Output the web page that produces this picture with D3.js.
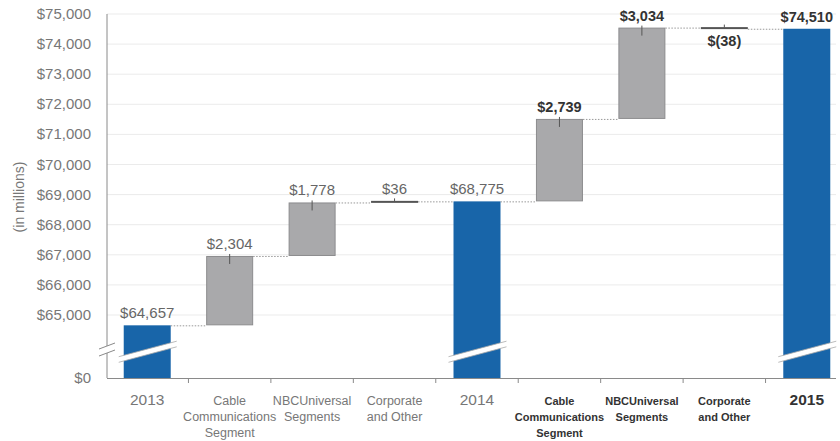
<!doctype html>
<html lang="en">
  <head>
    <meta charset="UTF-8" />
    <title>Revenue bridge</title>
    <script src="https://d3js.org/d3.v7.min.js"></script>
    <style>
      body,
      html {
        margin: 0;
        padding: 0;
        background: #fff;
      }
      svg {
        display: block;
        font-family: "Liberation Sans", Arial, Helvetica, sans-serif;
      }
    </style>
  </head>
  <body>
    <svg id="chart" width="840" height="441"></svg>
    <script>
      // data
      const categories = [
        ["2013"],
        ["Cable", "Communications", "Segment"],
        ["NBCUniversal", "Segments"],
        ["Corporate", "and Other"],
        ["2014"],
        ["Cable", "Communications", "Segment"],
        ["NBCUniversal", "Segments"],
        ["Corporate", "and Other"],
        ["2015"]
      ];
      const values = [64657, 2304, 1778, 36, 68775, 2739, 3034, -38, 74510];
      const isTotal = [true, false, false, false, true, false, false, false, true];
      const isBold = [false, false, false, false, false, true, true, true, true];
      const yTicks = [0, 65000, 66000, 67000, 68000, 69000, 70000, 71000, 72000, 73000, 74000, 75000];

      const svg = d3.select("#chart");
      const axisX = 107;
      const baseY = 378;

      // broken value axis: $0 at the bottom, then 64k..75k
      const y = d3.scaleLinear().domain([0, 64000, 75000]).range([baseY, 345.1, 14]);
      const x = d3
        .scaleBand()
        .domain(d3.range(values.length))
        .range([106, 848])
        .paddingInner(0.43)
        .paddingOuter(0.215);

      // build the waterfall steps
      let running = 0;
      const steps = values.map((v, i) => {
        let lo, hi, end;
        if (isTotal[i]) {
          lo = 0;
          hi = v;
          end = v;
        } else {
          lo = Math.min(running, running + v);
          hi = Math.max(running, running + v);
          end = running + v;
        }
        running = end;
        return { i, v, lo, hi, end };
      });

      const fmt = (v) => (v < 0 ? "$(" + d3.format(",")(-v) + ")" : "$" + d3.format(",")(v));

      // gridlines
      svg
        .append("g")
        .selectAll("line")
        .data(yTicks.filter((d) => d > 0))
        .join("line")
        .attr("x1", axisX)
        .attr("x2", 836)
        .attr("y1", (d) => y(d))
        .attr("y2", (d) => y(d))
        .attr("stroke", "#ebebeb")
        .attr("stroke-width", 1);

      // y tick labels
      svg
        .append("g")
        .selectAll("text")
        .data(yTicks)
        .join("text")
        .attr("x", 91)
        .attr("y", (d) => y(d) + 5)
        .attr("text-anchor", "end")
        .attr("font-size", 15)
        .attr("fill", "#777")
        .text((d) => "$" + d3.format(",")(d));

      svg
        .append("text")
        .attr("transform", "translate(24,197) rotate(-90)")
        .attr("text-anchor", "middle")
        .attr("font-size", 14)
        .attr("fill", "#777")
        .text("(in millions)");

      // connectors
      svg
        .append("g")
        .selectAll("line")
        .data(steps.slice(0, -1))
        .join("line")
        .attr("x1", (d) => x(d.i) + x.bandwidth())
        .attr("x2", (d) => x(d.i + 1))
        .attr("y1", (d) => y(d.end) + 0.5)
        .attr("y2", (d) => y(d.end) + 0.5)
        .attr("stroke", "#999")
        .attr("stroke-dasharray", "1.5,1.5");

      // bars
      const bars = svg.append("g");
      steps.forEach((d) => {
        const x0 = x(d.i);
        const w = x.bandwidth();
        const top = y(d.hi);
        const h = Math.max(2, y(d.lo) - y(d.hi));
        if (isTotal[d.i]) {
          bars
            .append("rect")
            .attr("x", x0)
            .attr("y", top)
            .attr("width", w)
            .attr("height", h)
            .attr("fill", "#1865a9");
          // slanted break through the bar
          const xl = x0 - 5;
          const xr = x0 + w + 6;
          const yl = 359.5;
          const yr = 344;
          const t = 2.8;
          bars
            .append("path")
            .attr("d", `M${xl},${yl - t}L${xr},${yr - t}L${xr},${yr + t}L${xl},${yl + t}Z`)
            .attr("fill", "#fff");
          [-t, t].forEach((o) =>
            bars
              .append("line")
              .attr("x1", xl)
              .attr("y1", yl + o)
              .attr("x2", xr)
              .attr("y2", yr + o)
              .attr("stroke", "#aaa")
              .attr("stroke-width", 0.8)
          );
        } else if (Math.abs(d.v) < 200) {
          bars
            .append("rect")
            .attr("x", x0)
            .attr("y", y(d.hi) - 0.5)
            .attr("width", w)
            .attr("height", 2)
            .attr("fill", "#555");
          bars
            .append("line")
            .attr("x1", x0 + w / 2)
            .attr("x2", x0 + w / 2)
            .attr("y1", top - 3)
            .attr("y2", top)
            .attr("stroke", "#555");
        } else {
          bars
            .append("rect")
            .attr("x", x0 + 0.5)
            .attr("y", top + 0.5)
            .attr("width", w - 1)
            .attr("height", h - 1)
            .attr("fill", "#a9a9ab")
            .attr("stroke", "#8c8c8e");
          bars
            .append("line")
            .attr("x1", x0 + w / 2)
            .attr("x2", x0 + w / 2)
            .attr("y1", top - 2)
            .attr("y2", top + 8)
            .attr("stroke", "#555");
        }
      });

      // value labels
      svg
        .append("g")
        .selectAll("text")
        .data(steps)
        .join("text")
        .attr("x", (d) => x(d.i) + x.bandwidth() / 2)
        .attr("y", (d) => (d.v < 0 ? y(d.lo) + 17 : y(d.hi) - 7))
        .attr("text-anchor", "middle")
        .attr("font-size", (d) => (isBold[d.i] ? 14.5 : 15))
        .attr("font-weight", (d) => (isBold[d.i] ? "bold" : "normal"))
        .attr("fill", (d) => (isBold[d.i] ? "#333" : "#666"))
        .text((d) => fmt(d.v));

      // axes lines
      const axisG = svg.append("g").attr("stroke", "#8a8a8a").attr("fill", "none");
      axisG.append("line").attr("x1", axisX).attr("x2", axisX).attr("y1", 14).attr("y2", 346);
      axisG.append("line").attr("x1", axisX).attr("x2", axisX).attr("y1", 353).attr("y2", baseY);
      axisG.append("line").attr("x1", 99).attr("x2", 115).attr("y1", 349).attr("y2", 343);
      axisG.append("line").attr("x1", 99).attr("x2", 115).attr("y1", 356).attr("y2", 350);
      axisG.append("line").attr("x1", axisX).attr("x2", 836).attr("y1", baseY + 0.5).attr("y2", baseY + 0.5);

      const gap = (x.step() - x.bandwidth()) / 2;
      axisG
        .selectAll("line.tick")
        .data(d3.range(1, values.length))
        .join("line")
        .attr("class", "tick")
        .attr("x1", (i) => x(i) - gap)
        .attr("x2", (i) => x(i) - gap)
        .attr("y1", baseY)
        .attr("y2", baseY + 5);

      // category labels
      const catG = svg.append("g");
      categories.forEach((lines, i) => {
        const year = lines.length === 1;
        const t = catG
          .append("text")
          .attr("x", x(i) + x.bandwidth() / 2)
          .attr("y", 405)
          .attr("text-anchor", "middle")
          .attr("font-size", year ? 15.5 : isBold[i] ? 11 : 12.5)
          .attr("font-weight", isBold[i] ? "bold" : "normal")
          .attr("fill", isBold[i] ? "#333" : "#777");
        lines.forEach((s, k) => {
          t.append("tspan")
            .attr("x", x(i) + x.bandwidth() / 2)
            .attr("dy", k === 0 ? 0 : 16)
            .text(s);
        });
      });
    </script>
  </body>
</html>
